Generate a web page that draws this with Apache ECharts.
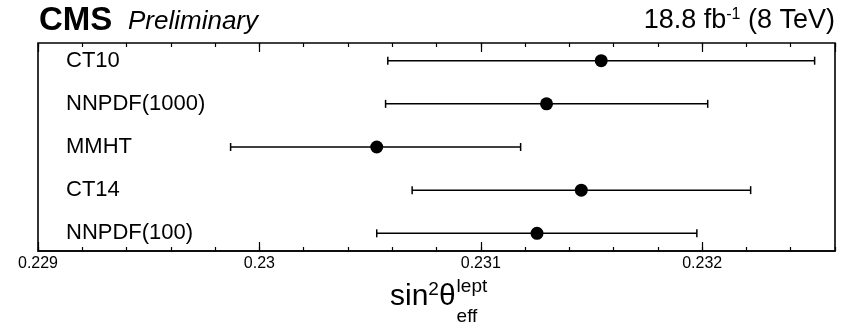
<!DOCTYPE html>
<html>
<head>
<meta charset="utf-8">
<script src="https://cdn.jsdelivr.net/npm/echarts@6/dist/echarts.min.js"></script>
<style>html,body{margin:0;padding:0;background:#fff}#c{width:844px;height:333px}</style>
</head>
<body>
<div id="c"></div>
<script>
const names = ['CT10', 'NNPDF(1000)', 'MMHT', 'CT14', 'NNPDF(100)'];
const rows = [1, 2, 3, 4, 5];
const central = [0.231544, 0.231297, 0.230530, 0.231454, 0.231254];
const lower = [0.23058, 0.23057, 0.22987, 0.23069, 0.23053];
const upper = [0.232508, 0.232025, 0.23118, 0.232219, 0.231976];
const xTickLabels = ['0.229', '0.23', '0.231', '0.232'];
const xTickValues = [0.229, 0.230, 0.231, 0.232];

const FONT = 'Liberation Sans, Arial, sans-serif';
const chart = echarts.init(document.getElementById('c'), null, {renderer: 'canvas'});

const errData = rows.map((r, i) => [lower[i], upper[i], r]);
const ptData = rows.map((r, i) => [central[i], r]);

function axisCommon(pos, interval, len, showLabel, showLine) {
  return {
    type: 'value', position: pos, min: 0.229, max: 0.2326, interval: interval,
    axisLine: {show: showLine, onZero: false, lineStyle: {color: '#000', width: 1.5}},
    axisTick: {show: true, inside: true, length: len, lineStyle: {color: '#000', width: 1.2}},
    axisLabel: {show: showLabel, showMaxLabel: false, fontFamily: FONT, fontSize: 16, color: '#000', margin: 5,
      formatter: v => { const k = xTickValues.findIndex(t => Math.abs(t - v) < 1e-9); return k >= 0 ? xTickLabels[k] : ''; }},
    splitLine: {show: false}
  };
}

const cv = document.createElement('canvas').getContext('2d');
function tw(t, f) { cv.font = f; return cv.measureText(t).width; }
const tFont = '30px ' + FONT;
const sFont = '19px ' + FONT;
const x0 = 390, base = 312;
const wSin = tw('sin', tFont), w2 = tw('2', sFont), wTh = tw('θ', tFont);

chart.setOption({
  animation: false,
  grid: {left: 38, right: 9, top: 43, bottom: 82, show: true, borderColor: '#000', borderWidth: 1.6, backgroundColor: 'transparent'},
  xAxis: [
    axisCommon('bottom', 0.001, 9, true, true),
    axisCommon('bottom', 0.0002, 4, false, false),
    axisCommon('top', 0.001, 9, false, false),
    axisCommon('top', 0.0002, 4, false, false)
  ],
  yAxis: {
    type: 'value', inverse: true, min: 0.59, max: 5.41,
    axisLine: {show: false}, axisTick: {show: false}, splitLine: {show: false},
    axisLabel: {show: true, inside: true, margin: 28, customValues: rows, fontFamily: FONT, fontSize: 22, color: '#000',
      formatter: v => names[rows.indexOf(Math.round(v))] || ''}
  },
  series: [
    {
      type: 'custom', xAxisIndex: 0, data: errData, z: 2,
      renderItem: function (params, api) {
        const a = api.coord([api.value(0), api.value(2)]);
        const b = api.coord([api.value(1), api.value(2)]);
        const h = 4;
        const st = {stroke: '#000', lineWidth: 1.5};
        return {type: 'group', children: [
          {type: 'line', shape: {x1: a[0], y1: a[1], x2: b[0], y2: b[1]}, style: st},
          {type: 'line', shape: {x1: a[0], y1: a[1] - h, x2: a[0], y2: a[1] + h}, style: st},
          {type: 'line', shape: {x1: b[0], y1: b[1] - h, x2: b[0], y2: b[1] + h}, style: st}
        ]};
      }
    },
    {
      type: 'scatter', xAxisIndex: 0, data: ptData, symbol: 'circle', symbolSize: 13, z: 3,
      itemStyle: {color: '#000', opacity: 1}
    }
  ],
  graphic: [
    {type: 'text', left: 39, top: 4, style: {text: 'CMS', font: 'bold 33px ' + FONT, fill: '#000'}},
    {type: 'text', left: 128, top: 9, style: {text: 'Preliminary', font: 'italic 26px ' + FONT, fill: '#000'}},
    {type: 'text', right: 9, top: 7, style: {
      text: '18.8 fb{s|-1} (8 TeV)', font: '27px ' + FONT, fill: '#000',
      rich: {s: {fontSize: 16, fontFamily: FONT, verticalAlign: 'top', padding: [0, 0, 12, 0]}}}},
    {type: 'text', x: x0, y: base, style: {text: 'sin', font: tFont, fill: '#000', verticalAlign: 'bottom'}},
    {type: 'text', x: x0 + wSin, y: base - 13, style: {text: '2', font: sFont, fill: '#000', verticalAlign: 'bottom'}},
    {type: 'text', x: x0 + wSin + w2, y: base, style: {text: 'θ', font: tFont, fill: '#000', verticalAlign: 'bottom'}},
    {type: 'text', x: x0 + wSin + w2 + wTh + 1, y: base - 16, style: {text: 'lept', font: sFont, fill: '#000', verticalAlign: 'bottom'}},
    {type: 'text', x: x0 + wSin + w2 + wTh + 1, y: base + 14, style: {text: 'eff', font: sFont, fill: '#000', verticalAlign: 'bottom'}}
  ]
});
</script>
</body>
</html>
